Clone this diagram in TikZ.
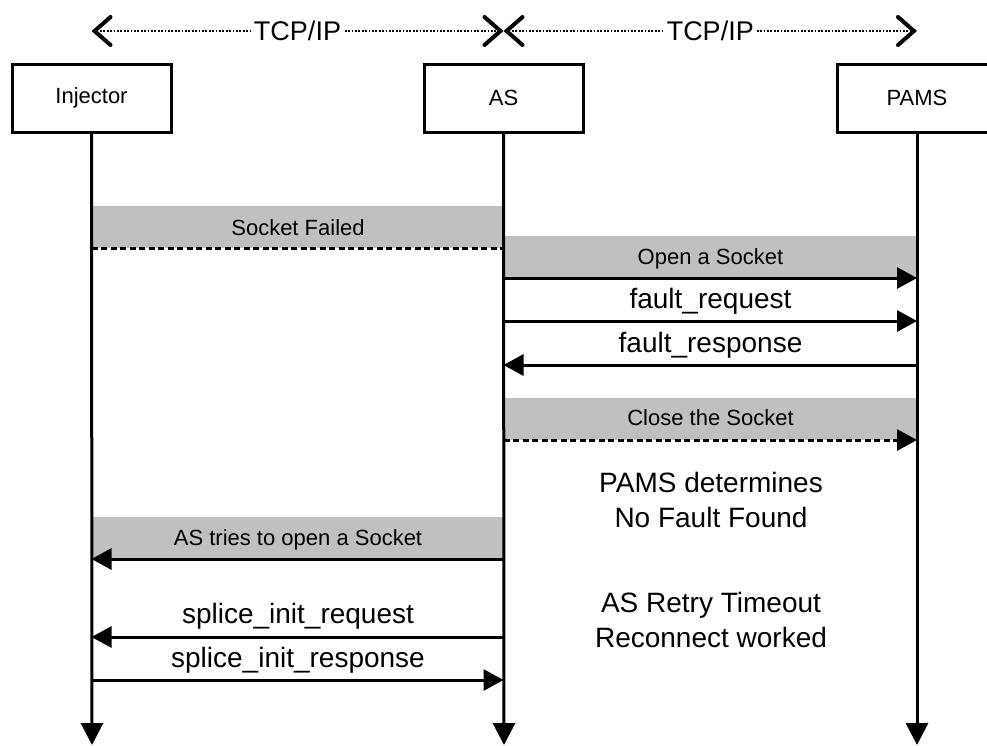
\documentclass[tikz,border=0pt]{standalone}
\usepackage{fontspec}
\setmainfont{Liberation Sans}
\usetikzlibrary{arrows.meta}
\definecolor{bandgray}{RGB}{192,192,192}
\tikzset{
  actor/.style={draw, line width=3pt, minimum width=159pt, minimum height=68pt, inner sep=0pt, font=\fontsize{22}{26}\selectfont, fill=white},
  life/.style={line width=3pt, -{Triangle[length=22pt,width=22pt]}},
  msg/.style={line width=3pt, -{Triangle[length=20pt,width=21pt]}},
  dmsg/.style={line width=3pt, dash pattern=on 6pt off 3.5pt, -{Triangle[length=20pt,width=21pt]}},
  dline/.style={line width=3pt, dash pattern=on 6pt off 3.5pt},
  band/.style={fill=bandgray},
  small/.style={font=\fontsize{22}{26}\selectfont, anchor=base, inner sep=0pt},
  big/.style={font=\fontsize{28}{35}\selectfont, anchor=base, inner sep=0pt},
  note/.style={font=\fontsize{28}{35}\selectfont, align=center, inner sep=0pt},
  tcp/.style={line width=2.6pt, dash pattern=on 1.8pt off 1.6pt, {Straight Barb[length=16pt,width=28pt,line width=4pt,line cap=round]}-{Straight Barb[length=16pt,width=28pt,line width=4pt,line cap=round]}},
  tcplabel/.style={font=\fontsize{27}{32}\selectfont, fill=white, inner xsep=3pt, inner ysep=0pt}
}
\begin{document}
\begin{tikzpicture}[x=1pt,y=-1pt]
\useasboundingbox (0,0) rectangle (987,745);
\clip (0,0) rectangle (987,745);
\fill[white] (0,0) rectangle (987,745);

% actors
\node[actor] (inj) at (91.5,98) {Injector};
\node[actor] (as) at (503.5,98) {AS};
\node[actor] (pams) at (917,98) {PAMS};

\coordinate (injEnd) at (92,745);
\coordinate (asEnd) at (504,745);
\coordinate (pamsEnd) at (917,745);

% TCP/IP
\draw[tcp] (inj |- 0,31) -- node[tcplabel] (t1) {TCP/IP} (as |- 0,31);
\draw[tcp] (as |- 0,31) -- node[tcplabel] (t2) {TCP/IP} (pams |- 0,31);

% bands
\fill[band] (inj |- 0,206) rectangle (as |- 0,248);
\fill[band] (as |- 0,236) rectangle (pams |- 0,278);
\fill[band] (as |- 0,398) rectangle (pams |- 0,440);
\fill[band] (inj |- 0,517) rectangle (as |- 0,559);

% lifelines
\draw[life] (inj.south) -- (injEnd);
\draw[life] (as.south) -- (asEnd);
\draw[life] (pams.south) -- (pamsEnd);

% messages
\draw[dline] (inj |- 0,248) -- (as |- 0,248);
\node[small] (l1) at (298,235) {Socket Failed};

\draw[msg] (as |- 0,278) -- (pams |- 0,278);
\node[small] (l2) at (710.5,264) {Open a Socket};

\draw[msg] (as |- 0,321) -- (pams |- 0,321);
\node[big] (l3) at (710.5,308) {fault\_request};

\draw[msg] (pams |- 0,365) -- (as |- 0,365);
\node[big] (l4) at (710.5,352) {fault\_response};

\draw[dmsg] (as |- 0,440) -- (pams |- 0,440);
\node[small] (l5) at (710.5,425) {Close the Socket};

\node[note] (n1) at (711,500) {PAMS determines\\No Fault Found};

\draw[msg] (as |- 0,559) -- (inj |- 0,559);
\node[small] (l6) at (298,545) {AS tries to open a Socket};

\draw[msg] (as |- 0,637) -- (inj |- 0,637);
\node[big] (l7) at (298,623) {splice\_init\_request};

\draw[msg] (inj |- 0,680) -- (as |- 0,680);
\node[big] (l8) at (298,667) {splice\_init\_response};

\node[note] (n2) at (711,620) {AS Retry Timeout\\Reconnect worked};
\end{tikzpicture}
\end{document}
